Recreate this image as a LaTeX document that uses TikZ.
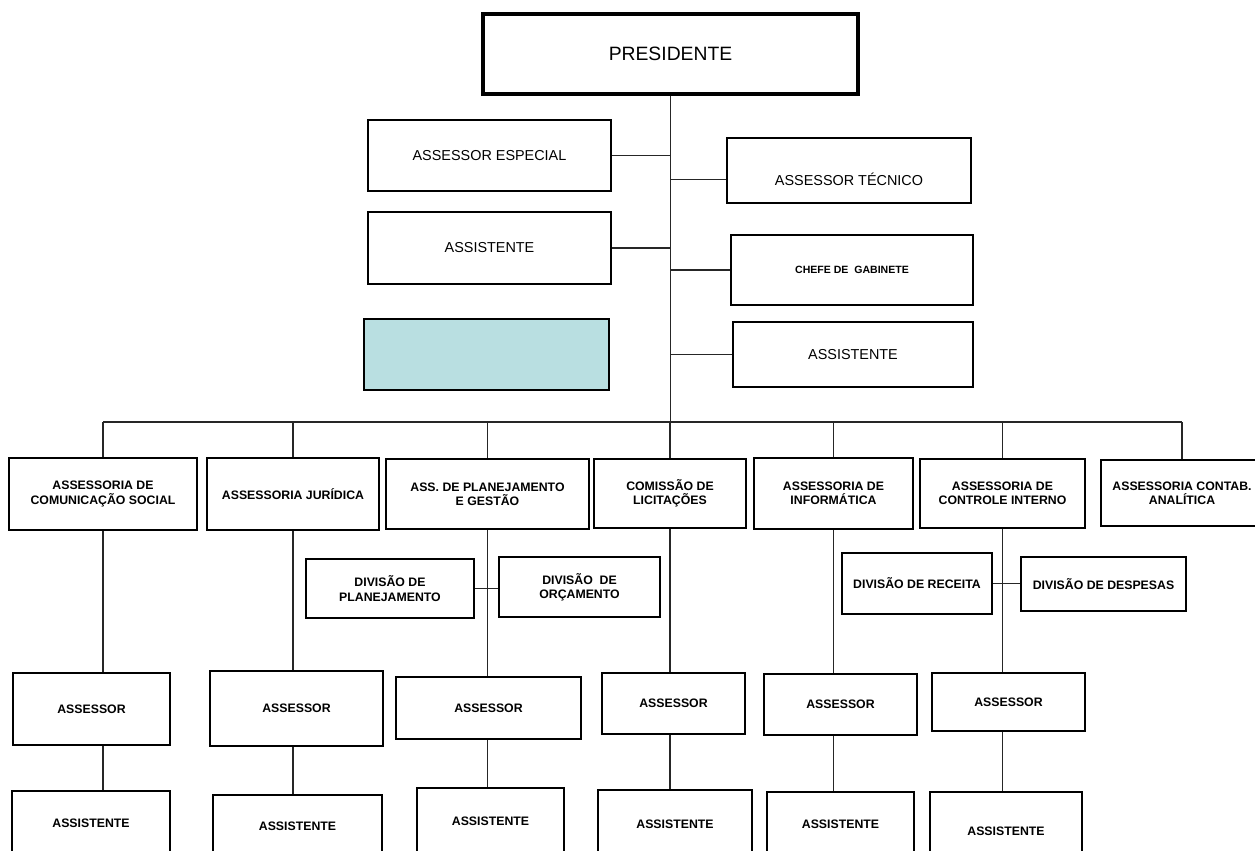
\documentclass[tikz,border=0pt]{standalone}
\usepackage{fontspec}
\setmainfont{Liberation Sans}
\definecolor{vazio}{HTML}{B9DFE1}
\tikzset{
  caixa/.style={draw, line width=1.1pt, align=center, inner sep=0pt,
    font=\fontsize{7}{8.2}\selectfont\bfseries},
  comum/.style={font=\fontsize{8.2}{10}\selectfont},
  tam/.style 2 args={minimum width=#1*0.02cm, minimum height=#2*0.02cm},
  liga/.style={line width=0.8pt, draw=black!85},
}
\begin{document}
\begin{tikzpicture}[x=0.02cm,y=-0.02cm]
  \useasboundingbox (0,0) rectangle (1255,850);
  \clip (0,0) rectangle (1255,850);

  \node[caixa, tam={375}{80}, line width=2.8pt, font=\fontsize{11}{13}\selectfont] (pres) at (670.5,54) {PRESIDENTE};

  \node[caixa, comum, tam={243}{71}] (assesp) at (489.5,155.5) {ASSESSOR ESPECIAL};
  \node[caixa, comum, tam={243}{72}] (assistl) at (489.5,248) {ASSISTENTE};
  \node[caixa, tam={245}{71}, fill=vazio] (vazia) at (486.5,354.5) {};
  \node[caixa, tam={244}{65}, label={[comum, yshift=-9*0.02cm]center:ASSESSOR TÉCNICO}] (asstec) at (849,170.5) {};
  \node[caixa, tam={242}{70}, font=\fontsize{6}{7}\selectfont\bfseries] (chefe) at (852,270) {CHEFE DE\ \ GABINETE};
  \node[caixa, comum, tam={240}{65}] (assistr) at (853,354.5) {ASSISTENTE};

  \coordinate (bus) at (105,422);
  \draw[liga] (pres.south) -- (pres.south |- bus);
  \draw[liga] (assesp.east) -- (assesp.east -| pres.south);
  \draw[liga] (assistl.east) -- (assistl.east -| pres.south);
  \draw[liga] ([yshift=-9*0.02cm]asstec.west) -- ([yshift=-9*0.02cm]asstec.west -| pres.south);
  \draw[liga] (chefe.west) -- (chefe.west -| pres.south);
  \draw[liga] (assistr.west) -- (assistr.west -| pres.south);

  \node[caixa, tam={188}{72}] (comsoc) at (103,494) {ASSESSORIA DE\\COMUNICAÇÃO SOCIAL};
  \node[caixa, tam={172}{72}] (jur) at (293,494) {ASSESSORIA JURÍDICA};
  \node[caixa, tam={203}{70}] (plan) at (487.5,494) {ASS. DE PLANEJAMENTO\\E GESTÃO};
  \node[caixa, tam={152}{69}] (lic) at (670,493.5) {COMISSÃO DE\\LICITAÇÕES};
  \node[caixa, tam={159}{71}] (inf) at (833.5,493.5) {ASSESSORIA DE\\INFORMÁTICA};
  \node[caixa, tam={165}{69}] (ctrl) at (1002.5,493.5) {ASSESSORIA DE\\CONTROLE INTERNO};
  \node[caixa, tam={162}{66}] (contab) at (1182,493) {ASSESSORIA CONTAB.\\ANALÍTICA};

  \draw[liga] (comsoc.north |- bus) -- (contab.north |- bus);
  \foreach \n in {comsoc,jur,plan,lic,inf,ctrl,contab}
    \draw[liga] (\n.north) -- (\n.north |- bus);

  \node[caixa, tam={168}{59}] (divplan) at (390,588.5) {DIVISÃO DE\\PLANEJAMENTO};
  \node[caixa, tam={161}{60}] (divorc) at (579.5,587) {DIVISÃO\ \ DE\\ORÇAMENTO};
  \node[caixa, tam={150}{61}] (divrec) at (917,583.5) {DIVISÃO DE RECEITA};
  \node[caixa, tam={165}{54}] (divdesp) at (1103.5,584) {DIVISÃO DE DESPESAS};
  \draw[liga] (divplan.east) -- (divplan.east -| divorc.west);
  \draw[liga] (divrec.east) -- (divrec.east -| divdesp.west);

  \node[caixa, tam={157}{72}] (ass1) at (91.5,709) {ASSESSOR};
  \node[caixa, tam={173}{75}] (ass2) at (296.5,708.5) {ASSESSOR};
  \node[caixa, tam={185}{62}] (ass3) at (488.5,708) {ASSESSOR};
  \node[caixa, tam={143}{61}] (ass4) at (673.5,703.5) {ASSESSOR};
  \node[caixa, tam={153}{61}] (ass5) at (840.5,704.5) {ASSESSOR};
  \node[caixa, tam={153}{58}] (ass6) at (1008.5,702) {ASSESSOR};

  \node[caixa, tam={158}{64}] (ast1) at (91,823) {ASSISTENTE};
  \node[caixa, tam={169}{62}] (ast2) at (297.5,826) {ASSISTENTE};
  \node[caixa, tam={147}{66}] (ast3) at (490.5,821) {ASSISTENTE};
  \node[caixa, tam={154}{68}] (ast4) at (675,824) {ASSISTENTE};
  \node[caixa, tam={147}{64}] (ast5) at (840.5,824) {ASSISTENTE};
  \node[caixa, tam={152}{78}] (ast6) at (1006,831) {ASSISTENTE};

  \foreach \s/\a/\b in {comsoc/ass1/ast1,jur/ass2/ast2,plan/ass3/ast3,lic/ass4/ast4,inf/ass5/ast5,ctrl/ass6/ast6}{
    \draw[liga] (\s.south) -- (\s.south |- \a.north);
    \draw[liga] (\a.south -| \s.south) -- (\b.north -| \s.south);
  }
\end{tikzpicture}
\end{document}
